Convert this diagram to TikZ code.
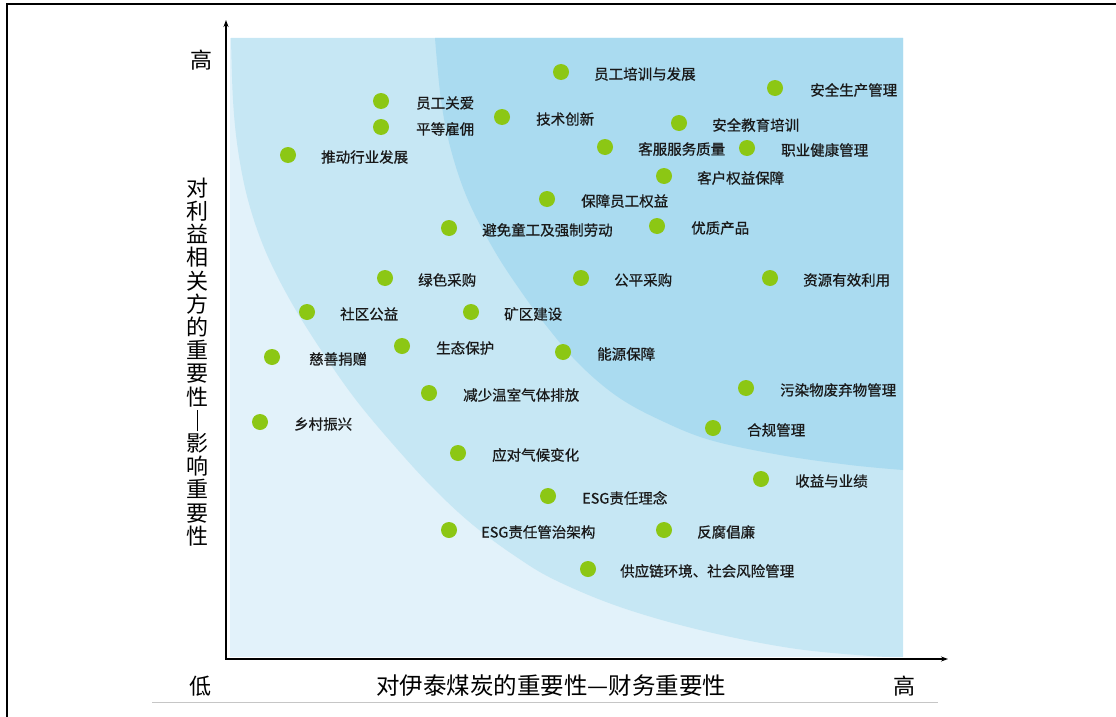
\documentclass[tikz,border=0pt]{standalone}
\usepackage{fontspec}
\setmainfont{Noto Sans CJK SC}
\newfontfamily\lblfont[FakeBold=0.7]{Noto Sans CJK SC}
\usetikzlibrary{arrows.meta}
\definecolor{bglight}{RGB}{226,242,250}
\definecolor{bgmid}{RGB}{198,231,244}
\definecolor{bgdark}{RGB}{170,219,240}
\definecolor{dotgreen}{RGB}{140,199,20}
\definecolor{txtgray}{RGB}{25,25,25}
\tikzset{
  dotnode/.style={circle, fill=dotgreen, minimum size=16pt, inner sep=0pt},
  lbl/.style={anchor=west, inner sep=0pt, text=txtgray, font=\lblfont\fontsize{14.5}{15}\selectfont},
  axislbl/.style={inner sep=0pt, text=black, font=\fontsize{22}{23}\selectfont},
  axisline/.style={line width=1.6pt, black},
}
\begin{document}
\begin{tikzpicture}[x=1pt,y=-1pt]
\useasboundingbox (0,0) rectangle (1116,717);
% frame
\draw[line width=1.5pt] (7,717) -- (7,4) -- (1116,4);
% background zones
\fill[bglight] (230,38) rectangle (903,657);
\fill[bgmid] (903,38) -- plot[smooth, tension=0.6] coordinates {(231,38) (233,100) (238,150) (248,200) (265,250) (290,300) (321,350) (356,400) (398,450) (435,490) (473,525) (515,556) (555,580) (620,607) (700,630) (790,648) (870,656) (903,657)} -- cycle;
\fill[bgdark] (903,38) -- plot[smooth, tension=0.6] coordinates {(435,38) (441,100) (451,150) (468,200) (494,250) (520,290) (548,328) (580,365) (618,397) (660,420) (710,440) (780,455) (850,465) (903,470)} -- cycle;
% axes
\coordinate (ytop) at (226,20);
\coordinate (O) at (226,659);
\coordinate (xend) at (948,659);
\draw[axisline, {Stealth[length=7pt,width=5pt]}-{Stealth[length=7pt,width=5pt]}] (ytop) -- (O) -- (xend);
% base rule
\coordinate (ruleL) at (152,702);
\coordinate (ruleR) at (938,702);
\draw[gray!45, line width=0.8pt] (ruleL) -- (ruleR);
% axis labels
\node[axislbl] (yhigh) at (201,60) {高};
\node[axislbl] (low) at (200,686) {低};
\node[axislbl] (xhigh) at (904,686) {高};
\node[axislbl, font=\fontsize{23.5}{24}\selectfont] (xtitle) at (551,686) {对伊泰煤炭的重要性—财务重要性};
\node[axislbl, align=center, font=\fontsize{22}{23.2}\selectfont] (ytitle) at (197,362)
  {对\\利\\益\\相\\关\\方\\的\\重\\要\\性\\\rule[-3pt]{0.9pt}{21pt}\\影\\响\\重\\要\\性};
% topics
\foreach \px/\py/\lx/\txt [count=\i] in {
 561/72/594/员工培训与发展,
 775/88/810/安全生产管理,
 381/101/416/员工关爱,
 381/127/416/平等雇佣,
 502/117/536/技术创新,
 679/123/712/安全教育培训,
 288/155/321/推动行业发展,
 605/147/638/客服服务质量,
 747/148/781/职业健康管理,
 664/176/697/客户权益保障,
 547/199/581/保障员工权益,
 449/228/482/避免童工及强制劳动,
 657/226/691/优质产品,
 385/278/418/绿色采购,
 581/278/614/公平采购,
 770/278/803/资源有效利用,
 307/312/340/社区公益,
 471/312/504/矿区建设,
 402/346/436/生态保护,
 563/352/597/能源保障,
 272/357/309/慈善捐赠,
 746/388/780/污染物废弃物管理,
 429/393/463/减少温室气体排放,
 260/422/294/乡村振兴,
 713/428/747/合规管理,
 458/453/492/应对气候变化,
 761/479/795/收益与业绩,
 548/496/582/ESG责任理念,
 449/530/481/ESG责任管治架构,
 664/530/697/反腐倡廉,
 588/569/620/供应链环境、社会风险管理}
{
  \node[dotnode] (d\i) at (\px,\py) {};
  \node[lbl] (t\i) at (\lx,\py+2) {\txt};
}
\end{tikzpicture}
\end{document}
